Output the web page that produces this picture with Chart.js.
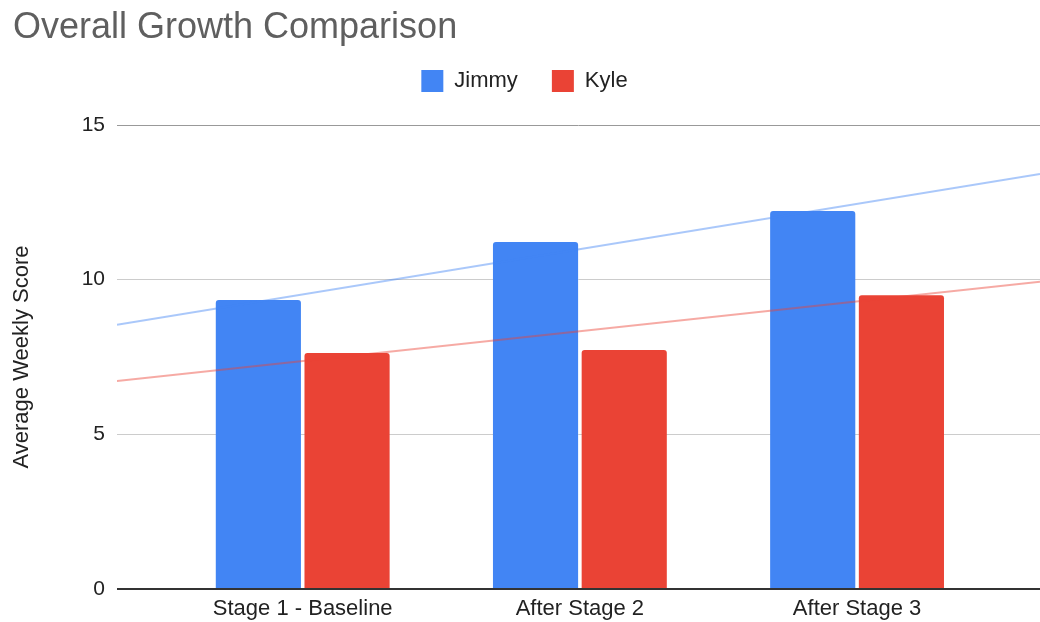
<!DOCTYPE html>
<html>
<head>
<meta charset="utf-8">
<script src="https://cdn.jsdelivr.net/npm/chart.js@4/dist/chart.umd.min.js"></script>
<style>
  html, body { margin: 0; padding: 0; background: #fff; }
  #wrap { width: 1040px; height: 622px; }
</style>
</head>
<body>
<div id="wrap"><canvas id="growth"></canvas></div>
<script>
// chart values
var stages = ["Stage 1 - Baseline", "After Stage 2", "After Stage 3"];
var jimmy = [9.34, 11.22, 12.22];
var kyle = [7.63, 7.73, 9.5];
// trendline end points (at left and right edge of the plot)
var trendX = [-0.67, 2.66];
var jimmyTrend = [8.54, 13.42];
var kyleTrend = [6.72, 9.93];
var yTicks = [0, 5, 10, 15];

var blue = "#4285F4";
var red = "#EA4335";
var font = "'Liberation Sans', Arial, sans-serif";

function points(xs, ys) {
    return ys.map(function (v, i) { return { x: xs[i], y: v }; });
}

// room under the legend, legend pulled up a little, title nudged in from the edge
var layoutTweaks = {
    id: 'layoutTweaks',
    beforeInit: function (chart) {
        var fit = chart.legend.fit;
        chart.legend.fit = function () {
            fit.bind(chart.legend)();
            this.height += 13;
        };
    },
    afterLayout: function (chart) {
        chart.titleBlock.left = 13;
        chart.legend.top -= 10;
        chart.legend.left += 9;
    }
};

var ctx = document.getElementById('growth');
var growthChart = new Chart(ctx, {
    type: 'bar',
    data: {
        datasets: [
            {
                label: 'Jimmy',
                data: points([0, 1, 2], jimmy),
                backgroundColor: blue,
                borderRadius: { topLeft: 3, topRight: 3 },
                borderSkipped: 'start',
                order: 2
            },
            {
                label: 'Kyle',
                data: points([0, 1, 2], kyle),
                backgroundColor: red,
                borderRadius: { topLeft: 3, topRight: 3 },
                borderSkipped: 'start',
                order: 2
            },
            {
                type: 'line',
                label: 'trend-jimmy',
                data: points(trendX, jimmyTrend),
                borderColor: 'rgba(66,133,244,0.45)',
                borderWidth: 2,
                pointRadius: 0,
                order: 1
            },
            {
                type: 'line',
                label: 'trend-kyle',
                data: points(trendX, kyleTrend),
                borderColor: 'rgba(234,67,53,0.45)',
                borderWidth: 2,
                pointRadius: 0,
                order: 1
            }
        ]
    },
    options: {
        responsive: true,
        maintainAspectRatio: false,
        animation: false,
        categoryPercentage: 0.64,
        barPercentage: 0.96,
        layout: { padding: 0 },
        plugins: {
            tooltip: { enabled: false },
            title: {
                display: true,
                text: 'Overall Growth Comparison',
                align: 'start',
                color: '#5f5f5f',
                font: { family: font, size: 36, weight: 'normal', lineHeight: 1 },
                padding: { top: 10, bottom: 0 }
            },
            legend: {
                display: true,
                position: 'top',
                align: 'center',
                labels: {
                    color: '#222',
                    font: { family: font, size: 22 },
                    boxWidth: 22,
                    boxHeight: 22,
                    padding: 34,
                    filter: function (item) { return item.text.indexOf('trend') !== 0; }
                }
            }
        },
        scales: {
            x: {
                type: 'linear',
                offset: false,
                min: trendX[0],
                max: trendX[1],
                grid: { display: false, drawTicks: false },
                border: { display: false },
                afterBuildTicks: function (scale) {
                    scale.ticks = stages.map(function (s, i) { return { value: i }; });
                },
                afterFit: function (scale) { scale.height = 33; },
                ticks: {
                    color: '#222',
                    padding: 7,
                    maxRotation: 0,
                    font: { family: font, size: 22 },
                    callback: function (v) { return stages[v]; }
                }
            },
            y: {
                min: 0,
                max: 15,
                afterBuildTicks: function (scale) {
                    scale.ticks = yTicks.map(function (v) { return { value: v }; });
                },
                afterFit: function (scale) { scale.width = 117; },
                border: { display: false },
                grid: {
                    drawTicks: false,
                    lineWidth: function (c) { return c.tick && c.tick.value === 0 ? 2 : 1; },
                    color: function (c) {
                        if (c.tick && c.tick.value === 0) return '#333';
                        if (c.tick && c.tick.value === 15) return '#999';
                        return '#ccc';
                    }
                },
                ticks: {
                    color: '#222',
                    padding: 12,
                    font: { family: font, size: 21 }
                },
                title: {
                    display: true,
                    text: 'Average Weekly Score',
                    color: '#222',
                    font: { family: font, size: 22 },
                    padding: { top: 9, bottom: 0 }
                }
            }
        }
    },
    plugins: [layoutTweaks]
});
</script>
</body>
</html>
